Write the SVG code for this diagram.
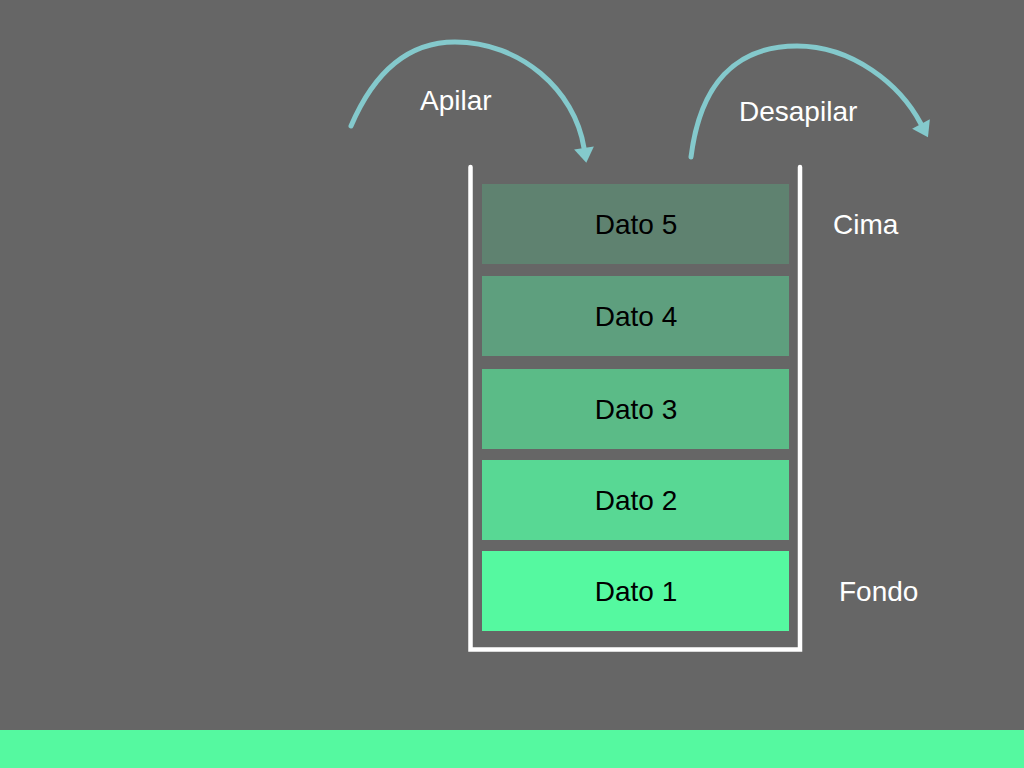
<svg xmlns="http://www.w3.org/2000/svg" width="1024" height="768" viewBox="0 0 1024 768">
<defs>
<style>
.lbl{font-family:"Liberation Sans",Arial,sans-serif;font-size:28px;fill:#ffffff}
.dt{font-family:"Liberation Sans",Arial,sans-serif;font-size:28px;fill:#000000;text-anchor:middle}
.arc{fill:none;stroke:#84C9CC;stroke-width:5;stroke-linecap:round}
.wall{fill:none;stroke:#ffffff;stroke-width:4.5;stroke-linecap:round;stroke-linejoin:miter}
</style>
<marker id="ah" markerUnits="userSpaceOnUse" markerWidth="24" markerHeight="24" refX="0" refY="0" viewBox="-1 -12 20 24" orient="auto" overflow="visible">
<path d="M0,-10 L15,0 L0,10 Z" fill="#84C9CC"/>
</marker>
</defs>
<rect x="0" y="0" width="1024" height="768" fill="#666666"/>
<rect x="0" y="730" width="1024" height="38" fill="#55F9A0"/>
<g id="container">
<path class="wall" d="M470.5,167 L470.5,649.5 L800,649.5 L800,167"/>
</g>
<g id="dato5"><rect x="482" y="184" width="307" height="80" fill="#5F8270"/><text class="dt" x="636" y="234">Dato 5</text></g>
<g id="dato4"><rect x="482" y="276" width="307" height="80" fill="#5E9F7E"/><text class="dt" x="636" y="326">Dato 4</text></g>
<g id="dato3"><rect x="482" y="369" width="307" height="80" fill="#5BBB87"/><text class="dt" x="636" y="419">Dato 3</text></g>
<g id="dato2"><rect x="482" y="460" width="307" height="80" fill="#58D894"/><text class="dt" x="636" y="510">Dato 2</text></g>
<g id="dato1"><rect x="482" y="551" width="307" height="80" fill="#55F9A0"/><text class="dt" x="636" y="601">Dato 1</text></g>
<g id="connectors">
<path class="arc" d="M351,126 C375,70 410,42 455,42 C520,42 575,90 584,148" marker-end="url(#ah)"/>
<path class="arc" d="M691,157 C700,85 735,46 797,46 C852,46 900,84 921,124" marker-end="url(#ah)"/>
</g>
<g id="labels">
<text class="lbl" x="420" y="110">Apilar</text>
<text class="lbl" x="739" y="121">Desapilar</text>
<text class="lbl" x="833" y="234">Cima</text>
<text class="lbl" x="839" y="601">Fondo</text>
</g>
</svg>
